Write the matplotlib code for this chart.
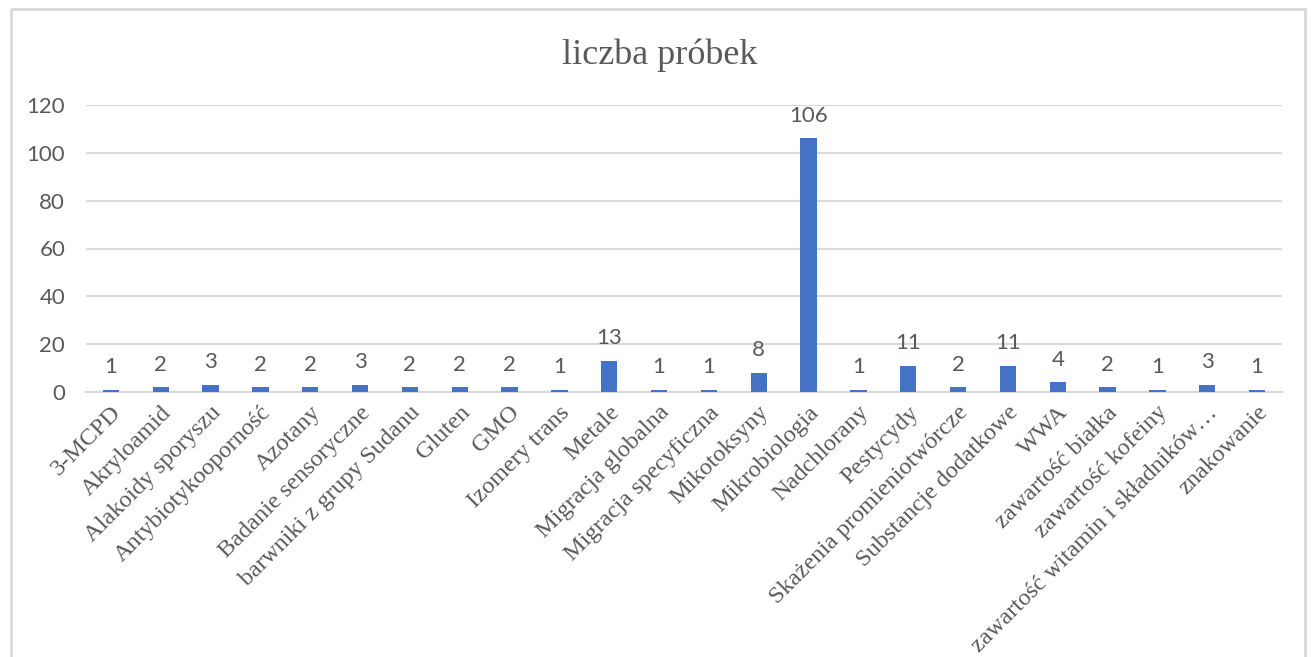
import matplotlib
matplotlib.use('Agg')
import matplotlib.pyplot as plt
from matplotlib.lines import Line2D
from matplotlib.transforms import ScaledTranslation

# data
categories = ['3-MCPD', 'Akryloamid', 'Alakoidy sporyszu', 'Antybiotykooporność',
              'Azotany', 'Badanie sensoryczne', 'barwniki z grupy Sudanu', 'Gluten',
              'GMO', 'Izomery trans', 'Metale', 'Migracja globalna',
              'Migracja specyficzna', 'Mikotoksyny', 'Mikrobiologia', 'Nadchlorany',
              'Pestycydy', 'Skażenia promieniotwórcze', 'Substancje dodatkowe', 'WWA',
              'zawartość białka', 'zawartość kofeiny',
              'zawartość witamin i składników…', 'znakowanie']
counts = [1, 2, 3, 2, 2, 3, 2, 2, 2, 1, 13, 1, 1, 8, 106, 1, 11, 2, 11, 4, 2, 1, 3, 1]
y_ticks = [0, 20, 40, 60, 80, 100, 120]

W, H = 1311, 657
fig = plt.figure(figsize=(W / 100, H / 100), dpi=100)
ax = fig.add_axes([86 / W, 1 - 392 / H, (1282 - 86) / W, (392 - 105) / H])

grey = '#595959'
grid = '#d9d9d9'
sans = ['Lato', 'DejaVu Sans']
serif = ['Liberation Serif', 'DejaVu Serif']

xs = range(len(categories))
ax.bar(xs, counts, width=0.33, color='#4472c4', zorder=3)
for x, v in zip(xs, counts):
    ax.annotate(str(v), (x, v), xytext=(0, 12), textcoords='offset points',
                ha='center', va='baseline', fontsize=16, color=grey, family=sans)

ax.set_xlim(-0.5, len(categories) - 0.5)
ax.set_ylim(0, 120)
ax.set_yticks(y_ticks)
ax.set_yticklabels([str(t) for t in y_ticks], fontsize=16, color=grey, family=sans)
ax.set_xticks(list(xs))
ax.set_xticklabels(categories, rotation=45, ha='right', va='center',
                   rotation_mode='anchor', fontsize=17.5, color=grey, family=serif)
ax.tick_params(axis='x', length=0, pad=14)
ax.tick_params(axis='y', length=0, pad=15)
# nudge the slanted labels a bit to the right, like the original
shift = ScaledTranslation(7 / 100, 2 / 100, fig.dpi_scale_trans)
for lab in ax.get_xticklabels():
    lab.set_transform(lab.get_transform() + shift)
ax.grid(axis='y', color=grid, linewidth=1.5, zorder=0)
for s in ['top', 'right', 'left']:
    ax.spines[s].set_visible(False)
ax.spines['bottom'].set_color(grid)
ax.spines['bottom'].set_linewidth(1.5)

fig.text(0.503, 1 - 55 / H, 'liczba próbek', ha='center', va='center',
         fontsize=26, color=grey, family=serif)

# chart frame
fx = [10.5 / W, 10.5 / W, 1304.5 / W, 1304.5 / W]
fy = [0, 1 - 8.5 / H, 1 - 8.5 / H, 0]
fig.add_artist(Line2D(fx, fy, transform=fig.transFigure, color=grid, linewidth=2))

fig.savefig('out.png', dpi=100)
